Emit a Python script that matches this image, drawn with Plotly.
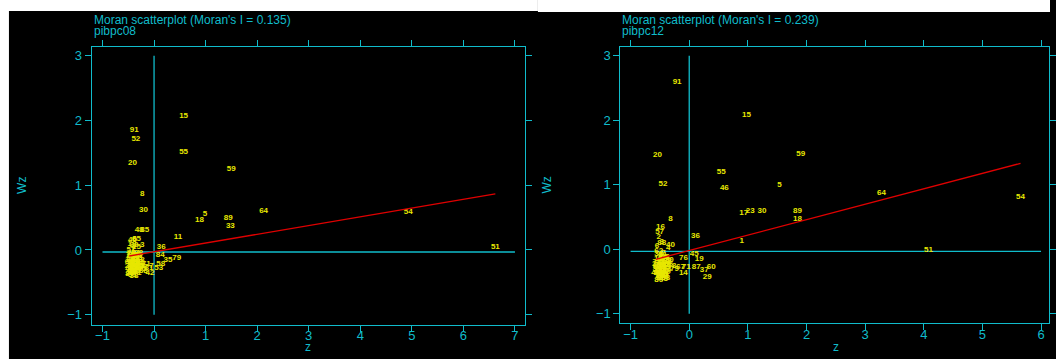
import plotly.graph_objects as go

W, H = 1056, 359
CYAN = "#10BCCB"
YEL = "#E8E800"
RED = "#E00000"

# ---------------- data: pibpc08 ----------------
lab08 = [15, 91, 52, 55, 20, 59, 8, 30, 64, 54, 5, 18, 89, 33, 11, 51, 48, 85, 36, 84, 79, 35, 42, 53, 58, 7,
         1, 2, 3, 4, 6, 9, 10, 12, 13, 14, 16, 17, 19, 21, 22, 23, 24, 25, 26, 27, 28, 29, 31, 32, 34, 37, 38, 39,
         40, 41, 43, 44, 45, 46, 47, 49, 50, 56, 57, 60, 61, 62, 63, 65, 66, 67, 68, 69, 70, 71, 72, 73, 74, 75,
         76, 77, 78, 80, 81, 82, 83, 86, 87, 88, 90]
z08 = [0.573, -0.386, -0.353, 0.573, -0.418, 1.499, -0.229, -0.203, 2.125, 4.93, 0.99, 0.88, 1.44, 1.48, 0.462,
       6.62, -0.29, -0.18, 0.14, 0.12, 0.44, 0.27, -0.08, 0.09, 0.13, -0.05,
       -0.42, -0.40, -0.23, -0.44, -0.38, -0.45, -0.36, -0.41, -0.30, -0.47, -0.33, -0.39, -0.43, -0.35, -0.46,
       -0.28, -0.40, -0.34, -0.44, -0.31, -0.37, -0.48, -0.42, -0.26, -0.39, -0.20, -0.39, -0.45,
       -0.42, -0.33, -0.47, -0.36, -0.24, -0.41, -0.29, -0.44, -0.35, -0.38, -0.45, -0.32, -0.40, -0.27, -0.43,
       -0.34, -0.37, -0.48, -0.30, -0.42, -0.36, -0.15, -0.44, -0.33, -0.46, -0.38,
       -0.25, -0.41, -0.35, -0.47, -0.10, -0.39, -0.31, -0.43, -0.37, -0.21, -0.45]
wz08 = [2.074, 1.853, 1.714, 1.518, 1.344, 1.246, 0.865, 0.623, 0.602, 0.587, 0.55, 0.463, 0.499, 0.376, 0.206,
        0.051, 0.31, 0.31, 0.04, -0.08, -0.13, -0.15, -0.36, -0.28, -0.22, -0.24,
        -0.12, 0.02, 0.08, -0.20, 0.17, -0.28, -0.22, -0.33, -0.18, -0.15, -0.27, -0.07, 0.09, -0.12, -0.35,
        -0.25, -0.25, 0.05, -0.05, -0.31, -0.17, -0.24, -0.38, -0.20, -0.30, -0.27, -0.40, -0.10,
        0.16, -0.36, -0.30, -0.05, -0.30, -0.16, -0.10, -0.32, -0.28, -0.34, 0.00, -0.22, -0.20, -0.15, -0.26,
        0.17, -0.27, -0.19, -0.05, -0.22, -0.32, -0.22, -0.14, -0.08, -0.08, -0.12,
        -0.24, -0.29, -0.19, -0.37, -0.28, 0.08, -0.13, -0.34, -0.23, -0.33, -0.18]
I08, b08 = 0.135, -0.028
mean08 = -0.031

# ---------------- data: pibpc12 ----------------
lab12 = [91, 15, 20, 59, 55, 52, 5, 46, 64, 54, 17, 23, 30, 89, 18, 8, 16, 57, 36, 1, 51, 40, 76, 45, 19, 67,
         71, 87, 37, 60, 14, 29,
         2, 3, 4, 6, 7, 9, 10, 11, 12, 13, 21, 22, 24, 25, 26, 27, 28, 31, 32, 33, 34, 35, 38, 39, 41, 42, 43,
         44, 47, 48, 49, 50, 53, 56, 58, 61, 62, 63, 65, 66, 68, 69, 70, 72, 73, 74, 75, 77, 78, 79, 80, 81, 82,
         83, 84, 85, 86, 88, 90]
z12 = [-0.207, 0.978, -0.541, 1.903, 0.546, -0.449, 1.54, 0.599, 3.28, 5.65, 0.93, 1.04, 1.241, 1.845, 1.845,
       -0.318, -0.49, -0.505, 0.107, 0.896, 4.08, -0.32, -0.097, 0.085, 0.17, -0.15,
       -0.05, 0.12, 0.255, 0.374, -0.10, 0.306,
       -0.52, -0.47, -0.36, -0.55, -0.44, -0.50, -0.40, -0.53, -0.46, -0.38, -0.51, -0.43, -0.56, -0.48, -0.41,
       -0.54, -0.45, -0.50, -0.37, -0.52, -0.47, -0.42, -0.48, -0.55, -0.39, -0.51, -0.44,
       -0.57, -0.46, -0.40, -0.53, -0.49, -0.43, -0.35, -0.50, -0.45, -0.52, -0.41, -0.48, -0.54, -0.46, -0.39,
       -0.51, -0.44, -0.49, -0.42, -0.55, -0.47, -0.30, -0.25, -0.50, -0.45, -0.53, -0.40,
       -0.48, -0.43, -0.52, -0.47, -0.34]
wz12 = [2.60, 2.087, 1.467, 1.482, 1.194, 1.017, 1.0, 0.945, 0.878, 0.81, 0.57, 0.60, 0.594, 0.594, 0.47,
        0.47, 0.35, 0.27, 0.206, 0.129, -0.01, 0.07, -0.13, -0.07, -0.15, -0.27,
        -0.27, -0.28, -0.32, -0.27, -0.372, -0.425,
        0.19, 0.12, 0.02, 0.05, -0.05, -0.10, -0.20, -0.15, -0.25, -0.30, -0.35, -0.40, -0.22, -0.28, -0.12,
        -0.32, -0.38, -0.44, -0.18, -0.08, -0.26, -0.34, -0.42, -0.30, -0.24, -0.20, -0.46,
        -0.36, -0.14, -0.28, -0.24, -0.31, -0.38, -0.22, -0.40, -0.33, -0.03, -0.17, -0.45, -0.27, -0.29, -0.35,
        -0.41, -0.12, -0.21, -0.43, -0.19, -0.37, -0.26, -0.30, -0.33, -0.09, -0.36, -0.44,
        -0.39, -0.25, -0.47, 0.10, -0.16]
I12, b12 = 0.239, -0.018
mean12 = -0.031

xticks08 = [-1, 0, 1, 2, 3, 4, 5, 6, 7]
xticks12 = [-1, 0, 1, 2, 3, 4, 5, 6]
yticks = [-1, 0, 1, 2, 3]

fig = go.Figure()


def add_panel(labels, z, wz, I, b, mean, xt, xa, ya):
    xmin, xmax = min(z), max(z)
    fig.add_trace(go.Scatter(x=[0, 0], y=[yticks[0], yticks[-1]], mode="lines",
                             line=dict(color=CYAN, width=1.3), xaxis=xa, yaxis=ya, hoverinfo="skip"))
    fig.add_trace(go.Scatter(x=[xt[0], xt[-1]], y=[mean, mean], mode="lines",
                             line=dict(color=CYAN, width=1.3), xaxis=xa, yaxis=ya, hoverinfo="skip"))
    fig.add_trace(go.Scatter(x=z, y=wz, mode="text", text=[str(v) for v in labels],
                             textposition="middle center",
                             textfont=dict(family="Arial", size=8, color=YEL, weight="bold"),
                             xaxis=xa, yaxis=ya))
    fig.add_trace(go.Scatter(x=[xmin, xmax], y=[b + I * xmin, b + I * xmax], mode="lines",
                             line=dict(color=RED, width=1.3), xaxis=xa, yaxis=ya, hoverinfo="skip"))


add_panel(lab08, z08, wz08, I08, b08, mean08, xticks08, "x", "y")
add_panel(lab12, z12, wz12, I12, b12, mean12, xticks12, "x2", "y2")

axis_common = dict(showline=True, linecolor=CYAN, linewidth=1.3, mirror="ticks",
                   ticks="outside", ticklen=6, tickcolor=CYAN, tickwidth=1.3,
                   showgrid=False, zeroline=False,
                   tickfont=dict(family="Arial", size=13, color=CYAN))


def dx(a, b_):
    return [a / W, b_ / W]


def dy(top, bottom):
    return [1 - bottom / H, 1 - top / H]


fig.update_layout(
    width=W, height=H,
    margin=dict(l=0, r=0, t=0, b=0),
    paper_bgcolor="black", plot_bgcolor="black",
    showlegend=False,
    xaxis=dict(domain=dx(92.3, 528), range=[-1.208, 7.195], tickvals=xticks08,
               ticklabelstandoff=-7, **axis_common),
    yaxis=dict(domain=dy(47, 324.5), range=[-1.151, 3.135], tickvals=yticks, **axis_common),
    xaxis2=dict(domain=dx(624, 1055), range=[-1.173, 6.136], tickvals=xticks12, anchor="y2",
                ticklabelstandoff=-7, **axis_common),
    yaxis2=dict(domain=dy(47, 323.3), range=[-1.147, 3.136], tickvals=yticks, anchor="x2", **axis_common),
)

fig.add_shape(type="rect", xref="paper", yref="paper", x0=0, x1=541 / W, y0=1 - 11 / H, y1=1,
              fillcolor="white", line_width=0, layer="above")
fig.add_shape(type="rect", xref="paper", yref="paper", x0=541 / W, x1=1, y0=1 - 12 / H, y1=1,
              fillcolor="white", line_width=0, layer="above")
fig.add_shape(type="rect", xref="paper", yref="paper", x0=0, x1=9 / W, y0=0, y1=1,
              fillcolor="white", line_width=0, layer="above")

titles = [
    (92.3, "Moran scatterplot (Moran's I = 0.135)", "pibpc08", 22, 310),
    (624, "Moran scatterplot (Moran's I = 0.239)", "pibpc12", 549.7, 840.4),
]
for x0, t1, t2, wzx, zx in titles:
    fig.add_annotation(x=x0 / W, y=1 - 20 / H, xref="paper", yref="paper", text=t1, showarrow=False,
                       xanchor="left", yanchor="middle", font=dict(family="Arial", size=12, color=CYAN))
    fig.add_annotation(x=x0 / W, y=1 - 30.5 / H, xref="paper", yref="paper", text=t2, showarrow=False,
                       xanchor="left", yanchor="middle", font=dict(family="Arial", size=12, color=CYAN))
    fig.add_annotation(x=wzx / W, y=1 - 185 / H, xref="paper", yref="paper", text="Wz", showarrow=False,
                       textangle=-90, xanchor="center", yanchor="middle",
                       font=dict(family="Arial", size=12, color=CYAN))
    fig.add_annotation(x=zx / W, y=1 - 347 / H, xref="paper", yref="paper", text="z", showarrow=False,
                       xanchor="center", yanchor="middle", font=dict(family="Arial", size=12, color=CYAN))

fig.write_html("out.html", config={"displayModeBar": False},
               post_script="document.body.style.margin='0';document.body.style.overflow='hidden';")
